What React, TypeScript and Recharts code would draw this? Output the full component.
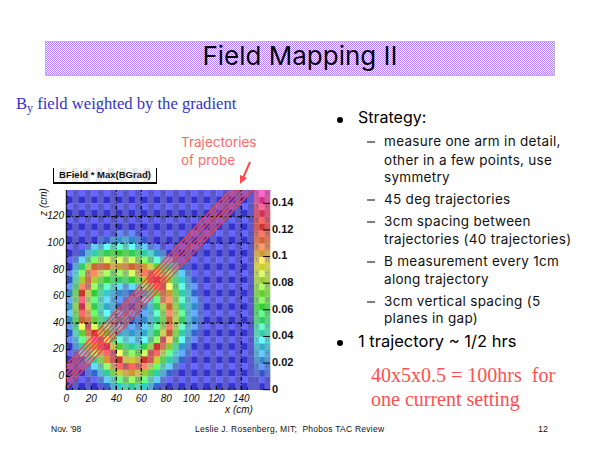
import React from "react";
import { ScatterChart, Scatter, XAxis, YAxis, ReferenceLine } from "recharts";

const xBins = [0,5,10,15,20,25,30,35,40,45,50,55,60,65,70,75,80,85,90,95,100,105,110,115,120,125,130,135,140,145];
const zBins = [135,130,125,120,115,110,105,100,95,90,85,80,75,70,65,60,55,50,45,40,35,30,25,20,15,10,5,0,-5,-10];
// level of each 5x5 cm cell, top row first; one level = 0.005. Missing trailing cells are 0.
const heatLevels = [
  [],[],[],[],[],[],
  [0,0,0,0,0,0,1,1,2,2,2,1,1],
  [0,0,0,0,1,2,3,4,5,5,4,3,2,1],
  [0,0,1,3,5,6,7,8,8,8,7,6,5,3,2,1],
  [0,1,3,6,8,10,11,12,12,12,11,10,8,7,5,3,1],
  [0,3,6,10,13,16,17,17,17,17,16,15,13,11,8,6,4,2,1],
  [1,5,10,17,22,23,22,20,20,21,22,22,20,18,14,10,8,5,3,1],
  [2,7,13,21,22,18,15,14,14,15,17,20,23,23,21,15,11,8,5,3,1],
  [2,9,17,23,17,13,12,11,10,11,12,13,17,24,26,22,15,10,7,4,2],
  [3,11,22,22,14,11,9,8,6,5,6,8,10,14,24,25,18,11,8,5,3,1],
  [4,13,25,17,12,9,7,5,4,3,3,4,6,9,14,23,20,13,8,6,3,1],
  [4,14,26,16,11,8,6,5,3,3,2,3,5,7,11,21,21,14,9,6,4,2],
  [5,15,26,18,11,8,6,5,3,2,2,3,4,6,10,16,22,15,9,6,4,2],
  [5,14,25,20,12,9,7,5,4,3,3,3,4,6,9,14,22,16,10,6,4,2],
  [4,12,22,22,14,10,8,6,4,4,3,3,4,6,9,13,22,17,10,6,4,2],
  [3,10,18,24,17,13,10,7,5,4,4,4,5,7,10,15,23,16,9,6,4,2],
  [2,8,14,22,25,17,13,9,6,5,5,5,6,8,11,18,23,14,8,5,3,1],
  [2,6,11,18,27,26,19,13,9,7,6,6,7,10,14,24,20,12,7,4,2],
  [1,4,8,13,20,26,27,19,13,10,9,9,11,15,24,22,15,9,5,3,1],
  [0,2,5,9,14,20,25,26,18,14,13,13,16,24,25,17,11,7,4,2],
  [0,1,3,6,9,14,20,24,24,19,18,20,24,24,18,12,8,5,3,1],
  [0,0,1,3,6,9,14,20,25,25,24,23,22,17,12,8,5,3,1],
  [0,0,0,2,3,6,9,13,18,20,20,19,16,12,8,5,3,1],
  [0,0,0,0,1,3,5,8,11,13,14,13,11,8,5,3,1],
  [0,0,0,0,0,1,3,5,7,8,9,8,7,5,3,1],
];
const paletteLight = ["#6666ff","#6666ff","#6688ff","#6699ff","#66aaff","#66ccff","#66ddff","#66ffff","#66ffdd","#66ffcc","#66ff99","#66ff88","#66ff66","#88ff66","#99ff66","#aaff66","#ccff66","#ddff66","#ffff66","#ffee66","#ffcc66","#ff9966","#ff8866","#ff7766","#ff6666","#ff6666","#ff6680","#ff6699","#ff66bb","#ff66cc"];
const paletteDark = ["#3333cc","#3333cc","#3355cc","#3366cc","#3388cc","#3399cc","#33aacc","#33cccc","#33ccaa","#33cc99","#33cc66","#33cc55","#33cc33","#55cc33","#66cc33","#88cc33","#99cc33","#aacc33","#cccc33","#ccaa33","#cc9933","#cc7733","#cc6633","#cc5533","#cc3333","#cc3333","#cc3355","#cc3366","#cc3388","#cc3399"];
const barLevels = [0,1,2,3,4,5,6,7,8,9,10,11,12,13,14,15,16,17,18,19,20,21,22,23,24,25,26,27,28,29];
const barColumns = [0.5,1.5,2.5];
const xTicks = [0,5,10,15,20,25,30,35,40,45,50,55,60,65,70,75,80,85,90,95,100,105,110,115,120,125,130,135,140,145];
const zTicks = [-10,-5,0,5,10,15,20,25,30,35,40,45,50,55,60,65,70,75,80,85,90,95,100,105,110,115,120,125,130,135];
const barTicks = [0,0.02,0.04,0.06,0.08,0.1,0.12,0.14];
const gridX = [40,60,140];
const gridZ = [120,100,40];
const trajectoryOffsets = [9,5.4,1.8,-1.8,-5.4,-9];
const subBullets: [number, string][] = [
  [142,"measure one arm in detail,"],[161,"other in a few points, use"],[178,"symmetry"],
  [200,"45 deg trajectories"],[222,"3cm spacing between"],[240,"trajectories (40 trajectories)"],
  [262,"B measurement every 1cm"],[280,"along trajectory"],[302,"3cm vertical spacing (5"],[319,"planes in gap)"],
];
const dashFirst = [142,200,222,262,302];

const heatData = zBins.flatMap((z, r) =>
  xBins.map((x, c) => ({ x: x + 2.5, z: z + 2.5, level: heatLevels[r][c] ?? 0, col: c, row: 29 - r }))
);
const barData = barLevels.flatMap((lv) =>
  barColumns.map((x, c) => ({ x, v: (lv + 0.5) * 0.005, level: lv, col: c === 1 ? 0 : 1, row: lv }))
);
const barTickData = barTicks.map((v) => ({ x: 0, v }));

const hex = (s: string) => [1, 3, 5].map((i) => parseInt(s.slice(i, i + 2), 16));
function cellColor(level: number, col: number, row: number) {
  const l = Math.min(29, level);
  if (col % 2 === 0) return row % 2 === 1 ? paletteLight[l] : paletteDark[l];
  const a = hex(paletteLight[l]), b = hex(paletteDark[l]);
  const m = a.map((v, i) => Math.round(((v + b[i]) / 2) * 0.75 + 136 * 0.25));
  return `rgb(${m[0]},${m[1]},${m[2]})`;
}
const makeCell = (w: number, h: number) => (p: any) => {
  const { cx, cy, payload } = p;
  const { level, col, row } = payload;
  const x = cx - w / 2, y = cy - h / 2;
  return (
    <g>
      <rect x={x} y={y} width={w + 0.3} height={h + 0.3} fill={cellColor(level, col, row)} />
      {col % 2 === 1 && row % 2 === 1 ? (
        <rect x={x + 1} y={y + 1} width={w - 2} height={h - 3} fill="url(#stipple)" />
      ) : null}
    </g>
  );
};
const NoMark = () => <g />;

const axisFont = "'Liberation Sans', Arial, sans-serif";
const XTick = (p: any) => {
  const v = p.payload.value, major = v % 20 === 0;
  const base = 389.7;
  return (
    <g>
      <line x1={p.x} x2={p.x} y1={base} y2={base - (major ? 4 : 2)} stroke="#000" />
      {major ? (
        <text x={p.x} y={399.5} textAnchor="middle" dominantBaseline="middle" fontFamily={axisFont} fontStyle="italic" fontSize={10} fill="#111">{v}</text>
      ) : null}
    </g>
  );
};
const YTick = (p: any) => {
  const v = p.payload.value, major = v % 20 === 0;
  const base = 66.3;
  return (
    <g>
      <line y1={p.y} y2={p.y} x1={base} x2={base + (major ? 4 : 2)} stroke="#000" />
      {major ? (
        <text x={64} y={p.y} textAnchor="end" dominantBaseline="middle" fontFamily={axisFont} fontStyle="italic" fontSize={10} fill="#111">{v}</text>
      ) : null}
    </g>
  );
};
const BarTick = (p: any) => (
  <g>
    <line x1={263} x2={270} y1={p.y} y2={p.y} stroke="#000" />
    <text x={272} y={p.y} dominantBaseline="middle" fontFamily={axisFont} fontWeight="bold" fontSize={11} fill="#111">{p.payload.value}</text>
  </g>
);

const pageSans = "Inter, sans-serif";
const T = (p: any) => <text dominantBaseline="middle" {...p} />;

export default function App() {
  return (
    <div style={{ position: "absolute", left: 0, top: 0, width: 600, height: 450, background: "#fff", overflow: "hidden" }}>
      <svg width={600} height={450} style={{ position: "absolute", left: 0, top: 0 }}>
        <defs>
          <pattern id="band" width="2" height="2" patternUnits="userSpaceOnUse">
            <rect width="2" height="2" fill="#ffffff" />
            <rect width="1" height="1" fill="#b280ff" />
            <rect x="1" y="1" width="1" height="1" fill="#b280ff" />
          </pattern>
        </defs>
        <rect x={45.5} y={41.5} width={509} height={34} fill="url(#band)" stroke="#b9b9b9" />
      </svg>
      <div style={{ position: "absolute", left: 53, top: 168, width: 102, height: 14, borderLeft: "1px solid #000", borderRight: "1px solid #000", borderBottom: "2px solid #000",
        background: "repeating-linear-gradient(90deg,#fff 0 6px,#e8e8e8 6px 12px)" }} />
      <div style={{ position: "absolute", left: 0, top: 0 }}>
        <ScatterChart width={600} height={450} margin={{ left: 66.3, right: 346.2, top: 190, bottom: 60.3 }}>
          <defs>
            <pattern id="stipple" width="2" height="2" patternUnits="userSpaceOnUse">
              <rect width="1" height="1" fill="rgba(30,30,90,0.3)" />
            </pattern>
          </defs>
          <XAxis type="number" dataKey="x" domain={[0, 150]} hide />
          <YAxis type="number" dataKey="z" domain={[-10, 140]} hide />
          <Scatter data={heatData} isAnimationActive={false} shape={makeCell(6.25, 6.667)} />
        </ScatterChart>
      </div>
      <div style={{ position: "absolute", left: 0, top: 0 }}>
        <ScatterChart width={600} height={450} margin={{ left: 254, right: 330, top: 190, bottom: 60.3 }}>
          <XAxis type="number" dataKey="x" domain={[0, 3]} hide />
          <YAxis type="number" dataKey="v" hide domain={[0, 0.15]} />
          <Scatter data={barData} isAnimationActive={false} shape={makeCell(5.333, 6.667)} />
        </ScatterChart>
      </div>
      <div style={{ position: "absolute", left: 0, top: 0 }}>
        <ScatterChart width={600} height={450} margin={{ left: 254, right: 310, top: 190, bottom: 60.3 }}>
          <XAxis type="number" dataKey="x" domain={[0, 3]} hide />
          <YAxis type="number" dataKey="v" orientation="right" domain={[0, 0.15]} ticks={barTicks} interval={0} width={20} axisLine={false} tickLine={false} tick={<BarTick />} />
          <Scatter data={barTickData} isAnimationActive={false} shape={NoMark} />
        </ScatterChart>
      </div>
      <div style={{ position: "absolute", left: 0, top: 0 }}>
        <ScatterChart width={600} height={450} margin={{ left: 40, right: 346.2, top: 190, bottom: 30 }}>
          <XAxis type="number" dataKey="x" domain={[0, 150]} ticks={xTicks} interval={0} height={30.3} axisLine={false} tickLine={false} tick={<XTick />} />
          <YAxis type="number" dataKey="z" domain={[-10, 140]} ticks={zTicks} interval={0} width={26.3} axisLine={{ stroke: "#000" }} tickLine={false} tick={<YTick />} />
          {gridX.map((x) => <ReferenceLine key={"gx" + x} x={x} stroke="#000" strokeWidth={1.2} strokeDasharray="4 2 1 2" />)}
          {gridZ.map((z) => <ReferenceLine key={"gz" + z} y={z} stroke="#000" strokeWidth={1.2} strokeDasharray="4 2 1 2" />)}
          {trajectoryOffsets.map((c) => (
            <Scatter key={"t" + c} data={[{ x: 0, z: c }, { x: 140 - c, z: 140 }]} isAnimationActive={false}
              line={{ stroke: "#ff3c3c", strokeWidth: 1.4, strokeOpacity: 1 }} shape={NoMark} />
          ))}
        </ScatterChart>
      </div>
      <svg width={600} height={450} style={{ position: "absolute", left: 0, top: 0 }}>
        <T x={300} y={58} textAnchor="middle" fontFamily={pageSans} fontSize={26} fill="#000">Field Mapping II</T>
        <text x={16} y={109} fontFamily="'Liberation Serif', serif" fontSize={16.6} fill="#3333cc">
          B<tspan dy={3} fontSize={12}>y</tspan><tspan dy={-3}> field weighted by the gradient</tspan>
        </text>
        <T x={181} y={143} fontFamily={pageSans} fontSize={13.5} fill="#ff6a6a">Trajectories</T>
        <T x={181} y={161} fontFamily={pageSans} fontSize={13.5} fill="#ff6a6a">of probe</T>
        <line x1={250} y1={162} x2={243} y2={178} stroke="#ff4a4a" strokeWidth={2} />
        <polygon points="240,184 240,175 247,178" fill="#ff4a4a" />
        <T x={105} y={175.5} textAnchor="middle" fontFamily={axisFont} fontWeight="bold" fontSize={9.5} fill="#111">BField * Max(BGrad)</T>
        <T transform="translate(44 202) rotate(-90)" textAnchor="middle" fontFamily={axisFont} fontStyle="italic" fontSize={10} fill="#111">z (cm)</T>
        <T x={239} y={410} textAnchor="middle" fontFamily={axisFont} fontStyle="italic" fontSize={10} fill="#111">x (cm)</T>
        <circle cx={340} cy={120} r={3} fill="#000" />
        <T x={358} y={119} fontFamily={pageSans} fontSize={16} fill="#000">Strategy:</T>
        {subBullets.map(([y, s]) => (
          <g key={y}>
            {dashFirst.includes(y) ? <line x1={367} x2={375} y1={y} y2={y} stroke="#000" /> : null}
            <T x={384} y={y} fontFamily={pageSans} fontSize={13.5} letterSpacing={0.3} fill="#111">{s}</T>
          </g>
        ))}
        <circle cx={340} cy={343} r={3} fill="#000" />
        <T x={358} y={342} fontFamily={pageSans} fontSize={16.5} fill="#000">1 trajectory ~ 1/2 hrs</T>
        <T x={371} y={377} fontFamily="'Liberation Serif', serif" fontSize={20} fill="#ff5050" xmlSpace="preserve">40x5x0.5 = 100hrs  for</T>
        <T x={371} y={401} fontFamily="'Liberation Serif', serif" fontSize={20} fill="#ff5050">one current setting</T>
        <T x={51} y={430} fontFamily={axisFont} fontSize={8.5} fill="#111">Nov. '98</T>
        <T x={195} y={430} fontFamily={axisFont} fontSize={8.5} fill="#111" letterSpacing={0.25} xmlSpace="preserve">Leslie J. Rosenberg, MIT;  Phobos TAC Review</T>
        <T x={538} y={430} fontFamily={axisFont} fontSize={9} fill="#111">12</T>
      </svg>
    </div>
  );
}
